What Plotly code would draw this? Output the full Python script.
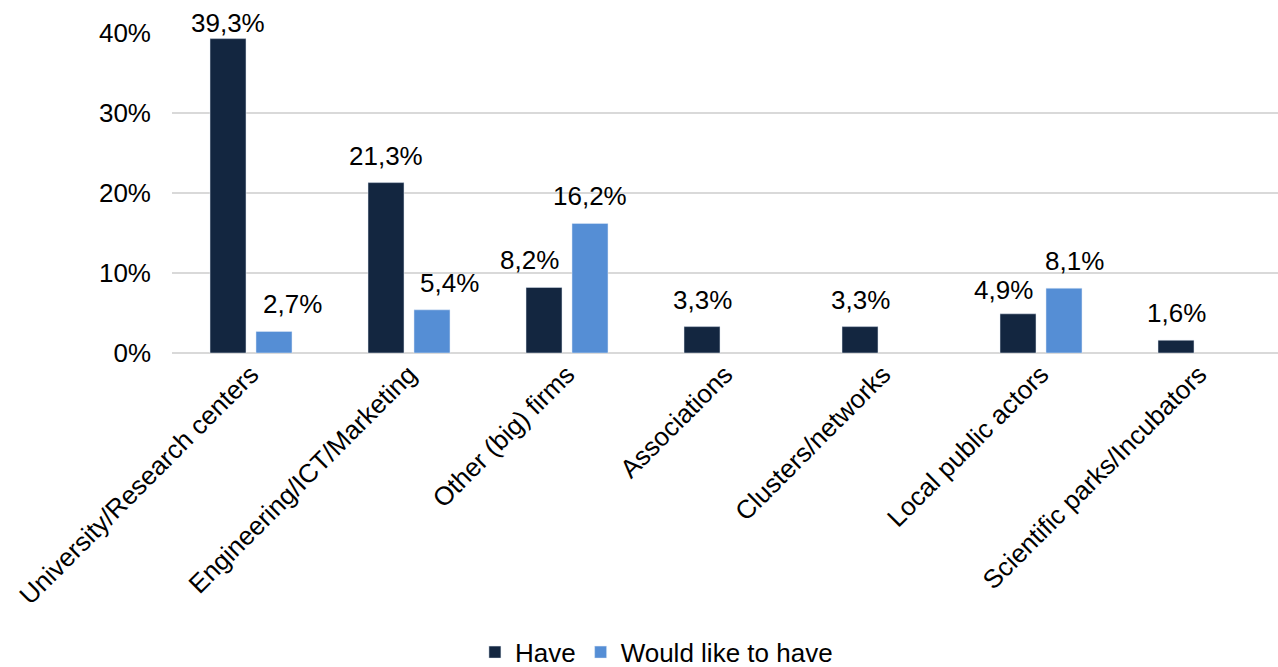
import plotly.graph_objects as go

categories = [
    "University/Research centers",
    "Engineering/ICT/Marketing",
    "Other (big) firms",
    "Associations",
    "Clusters/networks",
    "Local public actors",
    "Scientific parks/Incubators",
]
have = [39.3, 21.3, 8.2, 3.3, 3.3, 4.9, 1.6]
would_like = [2.7, 5.4, 16.2, None, None, 8.1, None]
y_ticks = [0, 10, 20, 30, 40]
y_tick_labels = ["0%", "10%", "20%", "30%", "40%"]

# label nudges (px) so neighbouring value labels don't collide
have_nudge_x = [0, 0, -15, 0, 0, -15, 0]
have_nudge_y = [-11, 0, 0, 0, 0, -3, 0]
would_nudge_x = [18, 17, 0, 0, 0, 10, 0]
would_nudge_y = [0, 0, 0, 0, 0, 0, 0]


def pct_label(v):
    return f"{v:.1f}%".replace(".", ",")


FONT = "Liberation Sans, Arial, sans-serif"
FS = 26
DARK = "#132640"
LIGHT = "#558ED5"
BAR_HALF_SLOT = 23  # px from category centre to each bar's centre
LABEL_LIFT = 10

fig = go.Figure()
fig.add_trace(go.Bar(name="Have", x=categories, y=have, marker_color=DARK))
fig.add_trace(go.Bar(name="Would like to have", x=categories, y=would_like,
                     marker_color=LIGHT))

annotations = []
for i, cat in enumerate(categories):
    for vals, side, nx, ny in ((have, -1, have_nudge_x, have_nudge_y),
                               (would_like, 1, would_nudge_x, would_nudge_y)):
        v = vals[i]
        if v is None:
            continue
        annotations.append(dict(
            x=cat, y=v, xref="x", yref="y", text=pct_label(v),
            showarrow=False, xanchor="center", yanchor="bottom",
            xshift=side * BAR_HALF_SLOT + nx[i], yshift=LABEL_LIFT + ny[i],
            font=dict(size=FS, color="#000000", family=FONT),
        ))

fig.update_layout(
    width=1278, height=667,
    margin=dict(l=172, r=0, t=33, b=314, autoexpand=False),
    paper_bgcolor="white", plot_bgcolor="white",
    barmode="group", bargap=0.418, bargroupgap=0.217,
    font=dict(family=FONT, size=FS, color="#000000"),
    annotations=annotations,
    showlegend=True,
    legend=dict(
        orientation="h", x=0.438, xanchor="center",
        yref="paper", y=-0.935, yanchor="middle",
        font=dict(size=FS), itemwidth=30, traceorder="normal",
        itemclick=False,
    ),
    xaxis=dict(
        tickangle=-45, showgrid=False, showline=False,
        ticks="", tickfont=dict(size=FS),
    ),
    yaxis=dict(
        range=[0, 40], tickvals=y_ticks, ticktext=y_tick_labels,
        showgrid=True, gridcolor="#D9D9D9", gridwidth=2,
        zeroline=True, zerolinecolor="#D9D9D9", zerolinewidth=2,
        showline=False, ticks="", tickfont=dict(size=FS),
        ticklabelstandoff=20,
    ),
)

fig.write_html("out.html")
